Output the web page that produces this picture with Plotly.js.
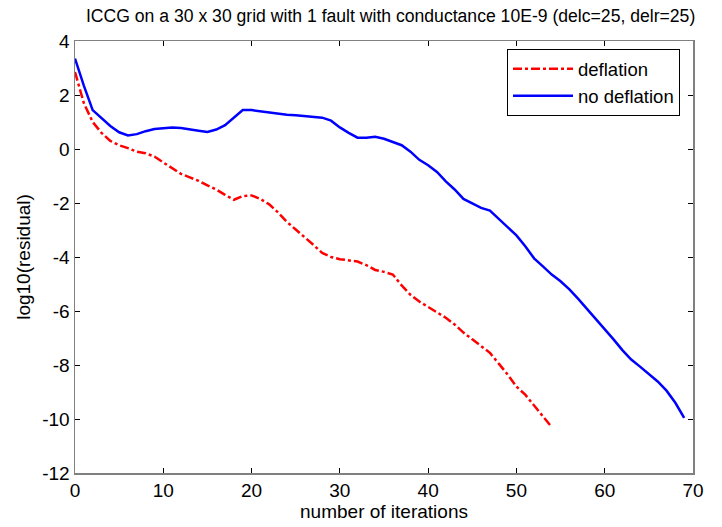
<!DOCTYPE html>
<html>
<head>
<meta charset="utf-8">
<script src="https://cdn.plot.ly/plotly-3.0.1.min.js"></script>
<style>html,body{margin:0;padding:0;background:#fff;}#chart{width:722px;height:527px;}</style>
</head>
<body>
<div id="chart"></div>
<script>
// iteration-indexed residuals (log10)
const noDeflation = [3.35,2.35,1.44,1.15,0.85,0.62,0.50,0.55,0.66,0.74,
  0.77,0.80,0.78,0.74,0.68,0.63,0.72,0.88,1.15,1.44,
  1.44,1.40,1.34,1.30,1.27,1.25,1.22,1.19,1.16,1.05,
  0.80,0.60,0.42,0.42,0.45,0.38,0.25,0.14,-0.10,-0.40,
  -0.60,-0.85,-1.20,-1.50,-1.85,-2.02,-2.18,-2.28,-2.58,-2.90,
  -3.20,-3.60,-4.05,-4.35,-4.65,-4.90,-5.20,-5.55,-5.92,-6.30,
  -6.65,-7.05,-7.45,-7.80,-8.06,-8.35,-8.61,-8.95,-9.40,-9.96];
const deflation = [2.85,1.70,1.00,0.60,0.30,0.14,0.03,-0.10,-0.16,-0.28,
  -0.50,-0.72,-0.92,-1.05,-1.18,-1.35,-1.50,-1.70,-1.88,-1.74,
  -1.72,-1.85,-2.05,-2.35,-2.70,-2.98,-3.25,-3.55,-3.85,-4.00,
  -4.08,-4.12,-4.17,-4.30,-4.48,-4.55,-4.65,-5.05,-5.40,-5.65,
  -5.85,-6.02,-6.25,-6.50,-6.80,-7.05,-7.30,-7.55,-7.95,-8.35,
  -8.80,-9.10,-9.50,-9.90,-10.30];
const seriesNames = ["deflation", "no deflation"];
const xTicks = [0,10,20,30,40,50,60,70];
const yTicks = [-12,-10,-8,-6,-4,-2,0,2,4];
const yTickText = yTicks.map(v => String(v));

const iters = n => Array.from({length: n}, (_, i) => i);

const font = "Liberation Sans, Arial, Helvetica, sans-serif";
const data = [
  {x: iters(deflation.length), y: deflation, name: seriesNames[0], type: "scatter", mode: "lines",
   line: {color: "#ff0000", width: 2.5, dash: "dashdot"}},
  {x: iters(noDeflation.length), y: noDeflation, name: seriesNames[1], type: "scatter", mode: "lines",
   line: {color: "#0000ff", width: 2.5}}
];
const axisCommon = {
  showgrid: false, zeroline: false, showline: true, linecolor: "#808080", linewidth: 1.5,
  mirror: "ticks", ticks: "inside", ticklen: 5, tickcolor: "#000", tickwidth: 1,
  tickfont: {family: font, size: 19, color: "#000"}
};
const layout = {
  width: 722, height: 527,
  margin: {l: 75, r: 29, t: 41, b: 54},
  paper_bgcolor: "#fff", plot_bgcolor: "#fff",
  title: {text: "ICCG on a 30 x 30 grid with 1 fault with conductance 10E-9 (delc=25, delr=25)",
          font: {family: font, size: 17.6, color: "#000"}, x: 0.541, xanchor: "center", y: 0.97, yanchor: "middle"},
  xaxis: Object.assign({}, axisCommon, {range: [0, 70], tickvals: xTicks,
          title: {text: "number of iterations", font: {family: font, size: 19, color: "#000"}, standoff: 3}}),
  yaxis: Object.assign({}, axisCommon, {range: [-12, 4], tickvals: yTicks, ticktext: yTickText,
          title: {text: "log10(residual)", font: {family: font, size: 19, color: "#000"}, standoff: 6}}),
  showlegend: true,
  legend: {x: 0.979, y: 0.981, xanchor: "right", yanchor: "top", bgcolor: "#fff",
           bordercolor: "#000", borderwidth: 1, font: {family: font, size: 18.5, color: "#000"},
           tracegroupgap: 0, itemwidth: 60}
};
Plotly.newPlot("chart", data, layout, {displayModeBar: false, staticPlot: true});
</script>
</body>
</html>
